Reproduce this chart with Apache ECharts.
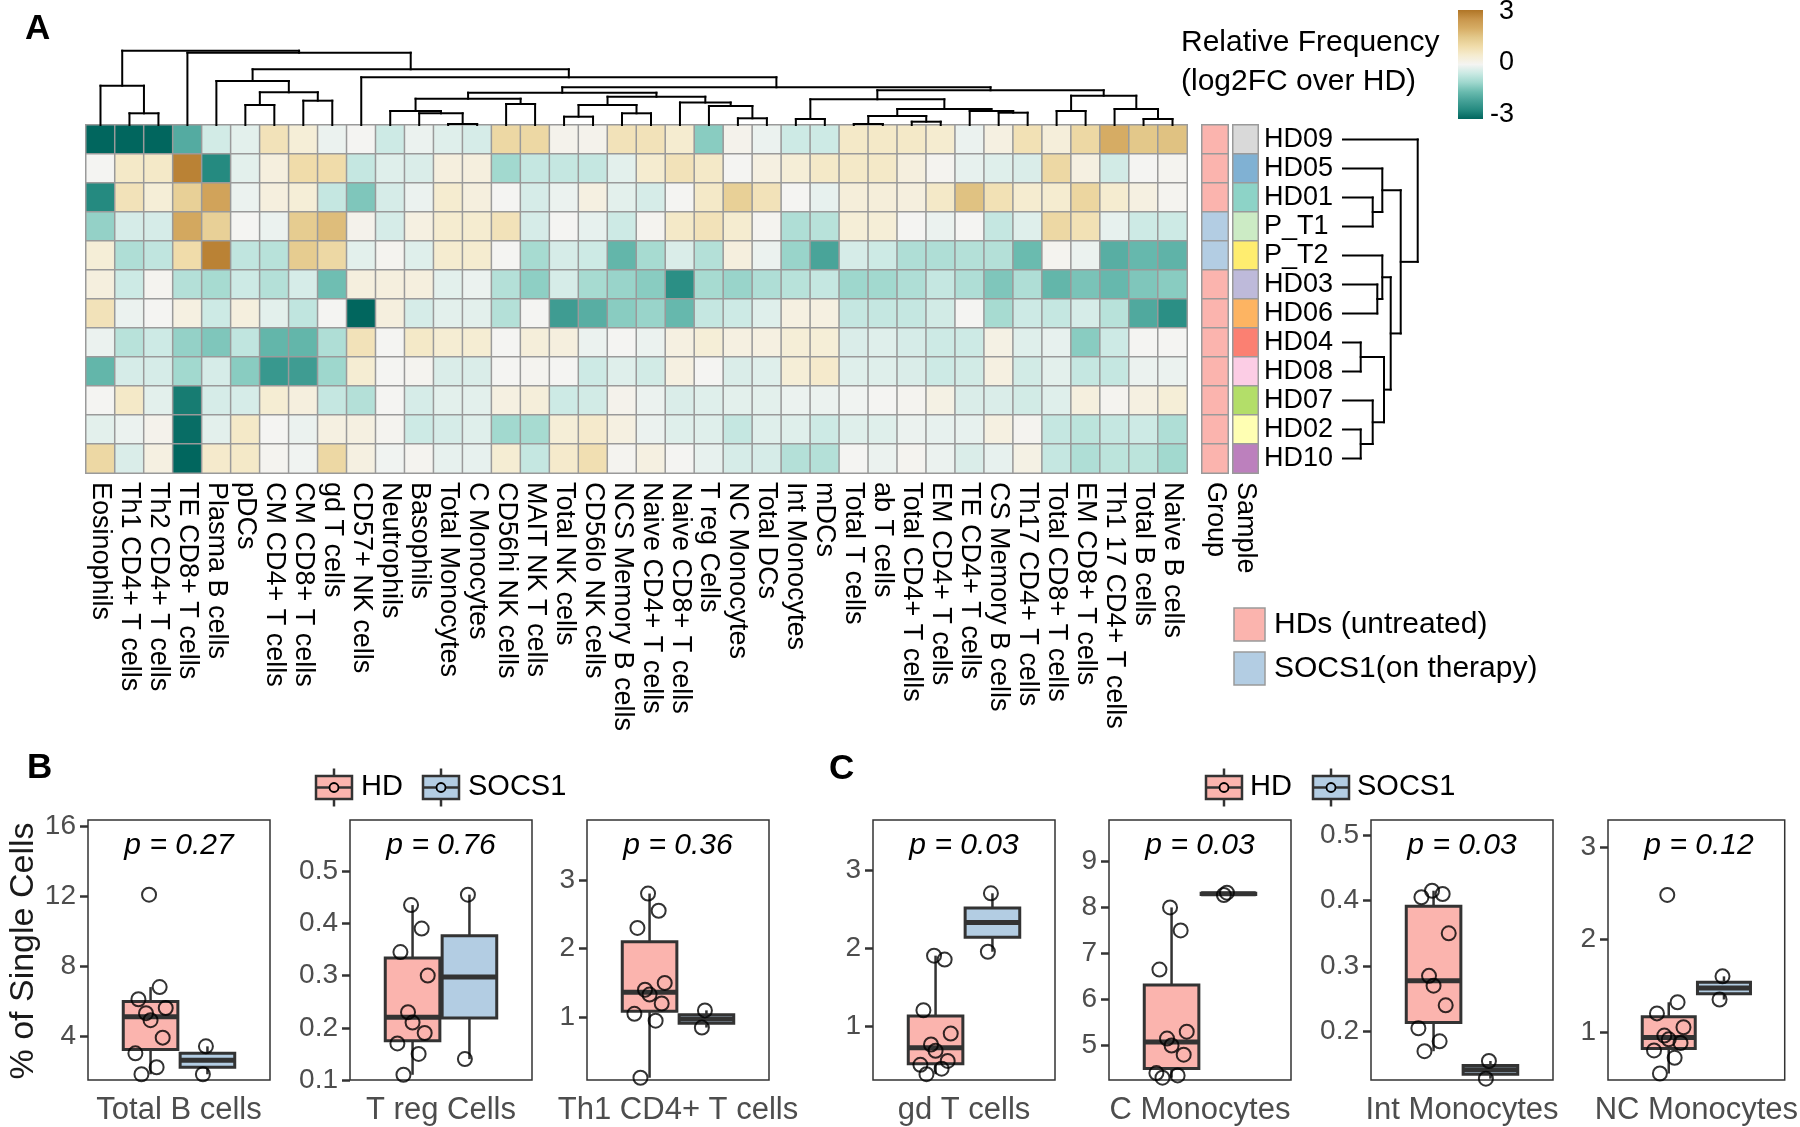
<!DOCTYPE html>
<html><head><meta charset="utf-8">
<script src="https://cdn.jsdelivr.net/npm/echarts@6/dist/echarts.min.js"></script>
<style>html,body{margin:0;padding:0;background:#fff}#c{width:1800px;height:1127px}</style>
</head><body><div id="c"></div>
<script>
// ---------------- DATA ----------------
const cellTypes = ['Eosinophils','Th1 CD4+ T cells','Th2 CD4+ T cells','TE CD8+ T cells','Plasma B cells','pDCs','CM CD4+ T cells','CM CD8+ T cells','gd T cells','CD57+ NK cells','Neutrophils','Basophils','Total Monocytes','C Monocytes','CD56hi NK cells','MAIT NK T cells','Total NK cells','CD56lo NK cells','NCS Memory B cells','Naive CD4+ T cells','Naive CD8+ T cells','T reg Cells','NC Monocytes','Total DCs','Int Monocytes','mDCs','Total T cells','ab T cells','Total CD4+ T cells','EM CD4+ T cells','TE CD4+ T cells','CS Memory B cells','Th17 CD4+ T cells','Total CD8+ T cells','EM CD8+ T cells','Th1 17 CD4+ T cells','Total B cells','Naive B cells'];
const samples = ['HD09','HD05','HD01','P_T1','P_T2','HD03','HD06','HD04','HD08','HD07','HD02','HD10'];
const sampleGroup = ['HD','HD','HD','SOCS1','SOCS1','HD','HD','HD','HD','HD','HD','HD'];
const sampleColors = ['#d9d9d9','#80b1d3','#8dd3c7','#ccebc5','#ffed6f','#bebada','#fdb462','#fb8072','#fccde5','#b3de69','#ffffb3','#bc80bd'];
const groupColors = {HD:'#fbb4ae', SOCS1:'#b3cde3'};
const groupLegend = ['HDs (untreated)','SOCS1(on therapy)'];

// log2FC per sample (columns in cellTypes order)
const hm_HD09 = [-3,-3,-3,-1.8,-0.4,-0.2,0.8,0.4,-0.1,0,-0.45,-0.1,-0.25,-0.35,1.1,1.1,0.1,0.1,0.8,0.8,0.5,-1.2,0.1,-0.1,-0.45,-0.45,0.6,0.6,0.6,0.5,-0.1,0.25,0.85,0.35,1.1,2.0,1.5,1.6];
const hm_HD05 = [0,0.6,0.6,2.8,-2.5,-0.2,0.3,1.0,1.0,-0.55,-0.25,-0.3,0.3,0.3,-0.95,-0.55,-0.55,-0.55,-0.2,0.5,0.8,0.6,0,0.25,0.4,0.6,0.6,0.6,0.3,0.05,-0.15,-0.25,-0.3,1.1,0.25,-0.4,0,0.05];
const hm_HD01 = [-2.5,0.8,0.4,1.3,2.2,-0.1,0.3,0.4,-0.55,-1.3,-0.35,-0.1,0.5,0.3,0,-0.35,-0.1,0.25,-0.2,-0.35,0,0.6,1.3,0.8,0,-0.15,0.35,0.35,0.3,0.6,1.6,0.85,0.5,0.5,1.15,0.5,0.25,0.05];
const hm_P_T1 = [-1.1,-0.35,-0.35,2.1,1.3,0,-0.1,1.4,1.7,0.1,-0.35,0.25,0.5,0.5,0.8,-0.35,0,-0.15,-0.45,0.05,0.6,0.8,0.5,0.05,-0.8,-0.7,0.4,0.4,0,-0.1,0,-0.55,-0.25,1.1,0.85,-0.15,-0.45,-0.45];
const hm_P_T2 = [0.4,-0.8,-0.6,1.0,2.8,-0.6,-0.7,1.4,1.1,-0.2,0.05,-0.25,0.5,0.5,0,-0.9,-0.35,-0.45,-1.6,-0.9,-0.3,-0.75,0.3,-0.1,-1.05,-1.95,-0.35,-0.45,-0.8,-0.8,-0.75,-0.75,-1.5,0.05,-0.1,-1.75,-1.55,-1.65];
const hm_HD03 = [0.3,-0.45,0.05,-0.75,-0.9,-0.45,-0.75,-0.35,-1.45,0.3,0.3,0.3,-0.2,-0.1,-0.75,-1.15,-0.35,-0.9,-1.05,-1.2,-2.4,-0.9,-1.05,-0.8,-0.7,-0.55,-1.0,-0.95,-0.8,-0.55,-0.8,-1.3,-0.8,-1.6,-1.35,-1.55,-1.3,-1.2];
const hm_HD06 = [0.8,-0.1,0,0.25,-0.45,0.3,-0.2,-0.6,0,-3,0.3,-0.35,-0.2,-0.2,-0.75,0,-2.1,-1.75,-1.2,-1.05,-1.55,-0.55,-0.45,-0.25,0.25,0.25,-0.55,-0.55,-0.55,-0.4,0,-0.9,-0.45,-0.55,-0.35,-0.7,-1.85,-2.4];
const hm_HD04 = [-0.1,-0.7,-0.45,-1.1,-1.3,-0.6,-1.6,-1.6,-0.8,0.8,0,0.6,0.45,0.45,0,0.35,0.3,-0.1,0,-0.1,0.25,0.4,0.25,0.25,0.4,0.4,-0.3,-0.25,-0.35,-0.45,-0.45,0.2,-0.25,-0.15,-1.2,-0.45,0,0];
const hm_HD08 = [-1.6,-0.35,-0.35,-0.95,-0.35,-1.2,-2.2,-2.1,-1.0,0.45,0,0.05,-0.3,-0.3,0,0.05,0,-0.45,-0.25,-0.4,0.25,0,-0.3,-0.25,0.4,0.55,-0.25,-0.25,-0.3,-0.45,-0.4,0.25,-0.4,-0.2,-0.55,-0.55,-0.1,-0.1];
const hm_HD07 = [0,0.6,-0.2,-2.7,-0.35,-0.35,0.45,0.3,-0.55,-0.75,0,-0.35,-0.2,-0.2,0.25,0.35,-0.45,-0.4,0.1,-0.1,-0.3,-0.25,-0.2,-0.2,-0.1,-0.1,-0.05,0,0.05,0.2,-0.3,-0.3,-0.4,-0.25,0.3,0.05,0.25,0.4];
const hm_HD02 = [-0.2,-0.1,0.1,-2.9,-0.2,0.6,0,-0.1,0.25,0.25,0.05,-0.45,-0.35,-0.25,-0.95,-0.9,0.4,0.55,0.25,-0.1,-0.25,-0.25,-0.55,-0.25,-0.25,-0.45,-0.25,-0.25,-0.1,-0.15,-0.15,0.25,0.05,-0.55,-0.65,-0.55,-0.45,-0.8];
const hm_HD10 = [1.1,-0.3,0.25,-3,0.55,0.6,0.05,-0.05,1.1,0.25,-0.05,0.05,-0.15,-0.15,0.45,-0.55,0.55,0.9,0.05,0.25,0,-0.15,-0.35,-0.35,-0.75,-0.75,0,-0.1,0.05,-0.1,-0.3,-0.15,0.2,-0.55,-0.8,-0.65,-0.65,-0.95];
const heatRows = [hm_HD09,hm_HD05,hm_HD01,hm_P_T1,hm_P_T2,hm_HD03,hm_HD06,hm_HD04,hm_HD08,hm_HD07,hm_HD02,hm_HD10];
const scaleTicks = ['3','0','-3'];

// column dendrogram: [left, right, mergeHeight]; leaves = column index
const cTh = [1,2,11.7], cEos = [0,cTh,39.3];
const cA1 = [[5,6,20],[7,8,24.3],32.7], cA2 = [4,cA1,44];
const cB1 = [[10,[11,[12,13,1],11.7],14],[14,15,21],26.3];
const cB2 = [[[16,17,8.3],[18,19,11.7],20],[20,[21,[22,23,6.7],19],22.5],28.3];
const cBn = [cB1,cB2,32.3];
const cC1 = [[24,25,6],[[[26,27,1],[28,29,3.3],9],[30,[31,32,12.3],14],16],25.7];
const cC2 = [[33,34,14],[35,[36,37,6],16],29.3];
const cD = [9,[cBn,[cC1,cC2,34.7],37.7],47.7];
const colTree = [cEos,[3,[cA2,cD,55.7],72.3],74.3];
// row dendrogram; leaves = row index in samples
const rowTree = [0,[[1,[2,3,29.7],39.3],[[4,[5,6,34.3],39.3],[[7,8,17.7],[9,[10,11,17.7],29.7],41],47.7],57.7],74.7];

// box plot panels (% of single cells)
const panelNames = ['Total B cells','T reg Cells','Th1 CD4+ T cells','gd T cells','C Monocytes','Int Monocytes','NC Monocytes'];
const pValues = ['0.27','0.76','0.36','0.03','0.03','0.03','0.12'];
const totalB_HD = [1.8,2.2,3.0,3.9,4.9,5.3,5.6,6.1,6.8,12.1];
const totalB_SOCS1 = [1.8,3.4];
const treg_HD = [0.11,0.15,0.17,0.19,0.21,0.23,0.30,0.345,0.39,0.435];
const treg_SOCS1 = [0.14,0.455];
const th1_HD = [0.12,0.95,1.05,1.2,1.33,1.4,1.5,2.3,2.55,2.8];
const th1_SOCS1 = [0.85,1.1];
const gdT_HD = [0.38,0.45,0.5,0.55,0.68,0.76,0.9,1.2,1.85,1.9];
const gdT_SOCS1 = [1.95,2.7];
const cMono_HD = [4.3,4.35,4.4,4.8,5.0,5.15,5.3,6.65,7.5,8.0];
const cMono_SOCS1 = [8.27,8.32];
const intMono_HD = [0.17,0.185,0.205,0.24,0.27,0.285,0.35,0.405,0.41,0.415];
const intMono_SOCS1 = [0.128,0.155];
const ncMono_HD = [0.55,0.72,0.8,0.88,0.92,0.96,1.05,1.2,1.32,2.48];
const ncMono_SOCS1 = [1.35,1.6];
const panelHD = [totalB_HD,treg_HD,th1_HD,gdT_HD,cMono_HD,intMono_HD,ncMono_HD];
const panelSOCS1 = [totalB_SOCS1,treg_SOCS1,th1_SOCS1,gdT_SOCS1,cMono_SOCS1,intMono_SOCS1,ncMono_SOCS1];
const ticksTotalB = [4,8,12,16];
const ticksTreg = [0.1,0.2,0.3,0.4,0.5];
const ticksTh1 = [1,2,3];
const ticksGdT = [1,2,3];
const ticksCMono = [5,6,7,8,9];
const ticksIntMono = [0.2,0.3,0.4,0.5];
const ticksNCMono = [1,2,3];
const panelTicks = [ticksTotalB,ticksTreg,ticksTh1,ticksGdT,ticksCMono,ticksIntMono,ticksNCMono];
const panelRange = [[1.47,16.38],[0.1,0.598],[0.087,3.87],[0.305,3.64],[4.25,9.9],[0.126,0.523],[0.48,3.29]];

// ---------------- STYLE / LAYOUT ----------------
const FONT = "'Liberation Sans', Arial, Helvetica, sans-serif";
const heatStops = ['#01665e','#258a80','#45a197','#6abbaf','#9ed7cd','#c9e9e3','#f4f4f2','#f5ecd0','#f0dcaa','#e3c88a','#d6ac64','#c9964c','#b07526'];
const HM = {left:86, top:125, width:1101, height:348};
const panelLeft = [88,350,587,873,1109,1371,1608];
const PW = 182, PT = 820, PH = 261;
const XHD = 0.8125, XSO = 1.1875, BOXW = 0.36;
const JIT_HD = [-0.06,0.04,-0.1,0.08,0.0,-0.03,0.1,-0.08,0.06,-0.01];
const JIT_SO = [-0.03,-0.01];

// ---------------- HELPERS ----------------
function dendro(node){
  if (typeof node === 'number') return {pos:node, h:0, segs:[]};
  const L = dendro(node[0]), R = dendro(node[1]), h = node[2];
  const segs = L.segs.concat(R.segs);
  segs.push([L.pos,L.h,L.pos,h],[R.pos,R.h,R.pos,h],[L.pos,h,R.pos,h]);
  return {pos:(L.pos+R.pos)/2, h:h, segs:segs};
}
function quant(s,p){ const H=(s.length-1)*p, lo=Math.floor(H), e=H-lo; return lo+1<s.length ? s[lo]+e*(s[lo+1]-s[lo]) : s[lo]; }
function boxStats(a){
  const s=a.slice().sort((x,y)=>x-y);
  const q1=quant(s,.25), m=quant(s,.5), q3=quant(s,.75), iqr=q3-q1;
  const lo=Math.min.apply(null,s.filter(v=>v>=q1-1.5*iqr));
  const hi=Math.max.apply(null,s.filter(v=>v<=q3+1.5*iqr));
  return [lo,q1,m,q3,hi];
}
const lineItem = (x1,y1,x2,y2,w) => ({type:'line', shape:{x1,y1,x2,y2}, style:{stroke:'#000', lineWidth:w||2, lineCap:'square'}});

// ---------------- BUILD ----------------
const heatData = [];
heatRows.forEach((row,r)=>row.forEach((v,c)=>heatData.push([c,r,v])));

const colSegs = dendro(colTree).segs;
const rowSegs = dendro(rowTree).segs.map(s=>[s[1],s[0],s[3],s[2]]);

const grids = [
  {left:HM.left, top:HM.top, width:HM.width, height:HM.height},
  {left:1202, top:HM.top, width:26, height:HM.height},
  {left:1233, top:HM.top, width:25, height:HM.height},
  {left:HM.left, top:46, width:HM.width, height:79},
  {left:1343, top:HM.top, width:80, height:HM.height}
];
const labelStyle = {fontSize:27, color:'#000', fontFamily:FONT};
const xAxes = [
  {type:'category', gridIndex:0, data:cellTypes, axisLine:{show:false}, axisTick:{show:false}, splitLine:{show:false},
   axisLabel:Object.assign({rotate:-90, interval:0, margin:9}, labelStyle)},
  {type:'category', gridIndex:1, data:['Group'], axisLine:{show:false}, axisTick:{show:false},
   axisLabel:Object.assign({rotate:-90, interval:0, margin:9}, labelStyle)},
  {type:'category', gridIndex:2, data:['Sample'], axisLine:{show:false}, axisTick:{show:false},
   axisLabel:Object.assign({rotate:-90, interval:0, margin:9}, labelStyle)},
  {type:'value', gridIndex:3, min:-0.5, max:37.5, show:false},
  {type:'value', gridIndex:4, min:0, max:80, show:false}
];
const yAxes = [
  {type:'category', gridIndex:0, data:samples, inverse:true, show:false},
  {type:'category', gridIndex:1, data:samples, inverse:true, show:false},
  {type:'category', gridIndex:2, data:samples, inverse:true, position:'right', axisLine:{show:false}, axisTick:{show:false},
   axisLabel:Object.assign({margin:6, interval:0}, labelStyle)},
  {type:'value', gridIndex:3, min:0, max:79, show:false},
  {type:'value', gridIndex:4, min:-0.5, max:11.5, inverse:true, show:false}
];
const segRender = (params, api) => {
  const p1 = api.coord([api.value(0), api.value(1)]);
  const p2 = api.coord([api.value(2), api.value(3)]);
  return lineItem(p1[0],p1[1],p2[0],p2[1],2);
};
const series = [
  {type:'heatmap', xAxisIndex:0, yAxisIndex:0, data:heatData, itemStyle:{borderColor:'#9a9a9a', borderWidth:1.5}, emphasis:{disabled:true}, progressive:0},
  {type:'heatmap', xAxisIndex:1, yAxisIndex:1, emphasis:{disabled:true},
   data:samples.map((s,i)=>({value:[0,i,1], itemStyle:{color:groupColors[sampleGroup[i]]}})), itemStyle:{borderColor:'#9a9a9a', borderWidth:1.5}},
  {type:'heatmap', xAxisIndex:2, yAxisIndex:2, emphasis:{disabled:true},
   data:samples.map((s,i)=>({value:[0,i,1], itemStyle:{color:sampleColors[i]}})), itemStyle:{borderColor:'#9a9a9a', borderWidth:1.5}},
  {type:'custom', xAxisIndex:3, yAxisIndex:3, data:colSegs, renderItem:segRender, silent:true, clip:false},
  {type:'custom', xAxisIndex:4, yAxisIndex:4, data:rowSegs, renderItem:segRender, silent:true, clip:false}
];

const boxRender = (fill) => (params, api) => {
  const x = api.value(0);
  const hw = api.size([BOXW,0])[0]/2;
  const pLo = api.coord([x, api.value(1)]), pQ1 = api.coord([x, api.value(2)]), pM = api.coord([x, api.value(3)]),
        pQ3 = api.coord([x, api.value(4)]), pHi = api.coord([x, api.value(5)]);
  const cx = pQ1[0];
  const st = {stroke:'#333', lineWidth:2.5};
  return {type:'group', children:[
    {type:'line', shape:{x1:cx,y1:pQ3[1],x2:cx,y2:pHi[1]}, style:st},
    {type:'line', shape:{x1:cx,y1:pQ1[1],x2:cx,y2:pLo[1]}, style:st},
    {type:'rect', shape:{x:cx-hw, y:pQ3[1], width:2*hw, height:Math.max(pQ1[1]-pQ3[1],0.5)}, style:{fill:fill, stroke:'#333', lineWidth:3}},
    {type:'line', shape:{x1:cx-hw,y1:pM[1],x2:cx+hw,y2:pM[1]}, style:{stroke:'#333', lineWidth:5}}
  ]};
};

const graphics = [];
const PFONT = FONT;
panelNames.forEach((name,k)=>{
  const gi = 5+k;
  grids.push({left:panelLeft[k], top:PT, width:PW, height:PH, show:true, borderColor:'#333', borderWidth:1.5, backgroundColor:'#fff'});
  xAxes.push({type:'value', gridIndex:gi, min:0.4, max:1.6, axisLine:{show:false}, axisTick:{show:false}, axisLabel:{show:false}, splitLine:{show:false},
    name:name, nameLocation:'middle', nameGap:15, nameTextStyle:{fontSize:31, color:'#4d4d4d', fontFamily:PFONT, verticalAlign:'top'}});
  yAxes.push({type:'value', gridIndex:gi, min:panelRange[k][0], max:panelRange[k][1], axisLine:{show:false}, splitLine:{show:false},
    axisTick:{show:true, length:8, lineStyle:{color:'#333', width:2.5}, customValues:panelTicks[k]},
    axisLabel:{fontSize:28, color:'#4d4d4d', fontFamily:PFONT, margin:12, customValues:panelTicks[k]}});
  const hd = panelHD[k], so = panelSOCS1[k];
  series.push({type:'custom', xAxisIndex:gi, yAxisIndex:gi, data:[[XHD].concat(boxStats(hd))], renderItem:boxRender(groupColors.HD), silent:true, z:2});
  series.push({type:'custom', xAxisIndex:gi, yAxisIndex:gi, data:[[XSO].concat(boxStats(so))], renderItem:boxRender(groupColors.SOCS1), silent:true, z:2});
  series.push({type:'scatter', xAxisIndex:gi, yAxisIndex:gi, z:3, symbol:'circle', symbolSize:14, silent:true,
    itemStyle:{color:'rgba(0,0,0,0)', borderColor:'#000', borderWidth:2},
    data:hd.map((v,i)=>[XHD+JIT_HD[i%JIT_HD.length], v]).concat(so.map((v,i)=>[XSO+JIT_SO[i%JIT_SO.length], v]))});
  graphics.push({type:'text', x:panelLeft[k]+PW/2, y:846, style:{text:'p = '+pValues[k], fontSize:30, fontStyle:'italic', fontFamily:PFONT, fill:'#000', align:'center', verticalAlign:'middle'}});
});

// panel letters
[['A',25,29],['B',27,768],['C',829,769]].forEach(t=>graphics.push({type:'text', x:t[1], y:t[2], style:{text:t[0], fontSize:35, fontWeight:'bold', fontFamily:FONT, fill:'#000', align:'left', verticalAlign:'middle'}}));
// heatmap legend title + colorbar
graphics.push({type:'text', x:1181, y:43, style:{text:'Relative Frequency', fontSize:30, fontFamily:FONT, fill:'#000', align:'left', verticalAlign:'middle'}});
graphics.push({type:'text', x:1181, y:82, style:{text:'(log2FC over HD)', fontSize:30, fontFamily:FONT, fill:'#000', align:'left', verticalAlign:'middle'}});
graphics.push({type:'rect', shape:{x:1458, y:10, width:25, height:109},
  style:{fill:new echarts.graphic.LinearGradient(0,0,0,1, heatStops.slice().reverse().map((c,i)=>({offset:i/(heatStops.length-1), color:c})))}});
[[scaleTicks[0],12],[scaleTicks[1],63],[scaleTicks[2],115]].forEach(t=>graphics.push({type:'text', x:1514, y:t[1], style:{text:t[0], fontSize:27, fontFamily:FONT, fill:'#000', align:'right', verticalAlign:'middle'}}));
// group legend
[['HD',608],['SOCS1',652]].forEach((g,i)=>{
  graphics.push({type:'rect', shape:{x:1234, y:g[1], width:31, height:33}, style:{fill:groupColors[g[0]], stroke:'#9a9a9a', lineWidth:1.5}});
  graphics.push({type:'text', x:1274, y:g[1]+17, style:{text:groupLegend[i], fontSize:30, fontFamily:FONT, fill:'#000', align:'left', verticalAlign:'middle'}});
});
// box legends
function boxKey(x, fill){
  const cy = 787.5, w = 36, h = 23, cx = x + w/2;
  graphics.push({type:'line', shape:{x1:cx,y1:cy-19,x2:cx,y2:cy+19}, style:{stroke:'#333', lineWidth:2.5}});
  graphics.push({type:'rect', shape:{x:x, y:cy-h/2, width:w, height:h}, style:{fill:fill, stroke:'#333', lineWidth:2.5}});
  graphics.push({type:'line', shape:{x1:x,y1:cy,x2:x+w,y2:cy}, style:{stroke:'#333', lineWidth:2.5}});
  graphics.push({type:'circle', shape:{cx:cx, cy:cy, r:4.5}, style:{fill:fill, stroke:'#000', lineWidth:1.8}});
}
[[316,361,423,468],[1206,1250,1313,1357]].forEach(p=>{
  boxKey(p[0], groupColors.HD);
  graphics.push({type:'text', x:p[1], y:787, style:{text:'HD', fontSize:29, fontFamily:PFONT, fill:'#000', align:'left', verticalAlign:'middle'}});
  boxKey(p[2], groupColors.SOCS1);
  graphics.push({type:'text', x:p[3], y:787, style:{text:'SOCS1', fontSize:29, fontFamily:PFONT, fill:'#000', align:'left', verticalAlign:'middle'}});
});
// y title
graphics.push({type:'text', x:24, y:951, rotation:Math.PI/2, style:{text:'% of Single Cells', fontSize:34, fontFamily:PFONT, fill:'#1a1a1a', align:'center', verticalAlign:'middle'}});

const chart = echarts.init(document.getElementById('c'), null, {renderer:'canvas'});
chart.setOption({
  animation:false,
  backgroundColor:'#fff',
  grid:grids, xAxis:xAxes, yAxis:yAxes,
  visualMap:{type:'continuous', show:false, min:-3, max:3, seriesIndex:0, inRange:{color:heatStops}},
  series:series,
  graphic:{elements:graphics}
});
</script></body></html>
